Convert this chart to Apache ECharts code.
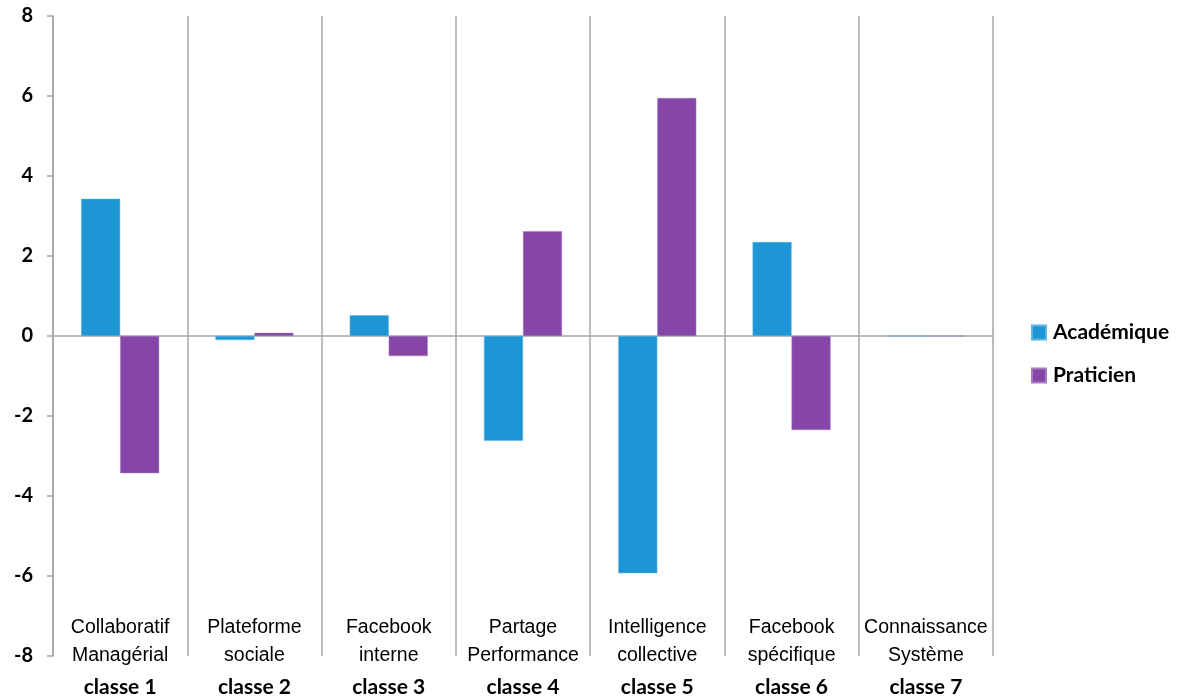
<!DOCTYPE html>
<html><head><meta charset="utf-8">
<script src="https://cdn.jsdelivr.net/npm/echarts@6/dist/echarts.min.js"></script>
<style>html,body{margin:0;padding:0;background:#fff}#c{width:1178px;height:698px}</style>
</head><body><div id="c"></div>
<script>
const categories = ["Collaboratif\nManagérial", "Plateforme\nsociale", "Facebook\ninterne", "Partage\nPerformance", "Intelligence\ncollective", "Facebook\nspécifique", "Connaissance\nSystème"];
const classes = ["classe 1", "classe 2", "classe 3", "classe 4", "classe 5", "classe 6", "classe 7"];
const academique = [3.43, -0.1, 0.52, -2.62, -5.93, 2.35, 0];
const praticien = [-3.43, 0.08, -0.5, 2.62, 5.95, -2.35, 0];
const yTicks = { min: -8, max: 8, interval: 2 };

const labels = categories.map((c, i) => c + "\n{b|" + classes[i] + "}");
const chart = echarts.init(document.getElementById('c'));
chart.setOption({
  animation: false,
  grid: { left: 53, right: 185, top: 16, bottom: 42, containLabel: false, outerBoundsMode: 'none' },
  legend: {
    orient: 'vertical', left: 1026, top: 317, itemGap: 22, itemWidth: 14, itemHeight: 14,
    icon: 'rect',
    textStyle: { fontFamily: 'Lato', fontWeight: 'bold', fontSize: 21, color: '#000', padding: [0, 0, 0, 2] },
    data: ['Académique', 'Praticien']
  },
  xAxis: [{
    type: 'category', data: labels, boundaryGap: true,
    axisLine: { onZero: true, lineStyle: { color: '#a6a6a6', width: 1.5 } },
    axisTick: { show: false }, axisLabel: { show: false },
    splitLine: { show: true, lineStyle: { color: '#a6a6a6', width: 1.5 } }
  }, {
    type: 'category', data: labels, position: 'bottom', boundaryGap: true,
    axisLine: { show: false, onZero: false }, axisTick: { show: false },
    axisLabel: {
      margin: -42, interval: 0, color: '#000', fontFamily: 'Liberation Sans', fontSize: 19.5, lineHeight: 28,
      rich: { b: { fontFamily: 'Lato', fontWeight: 'bold', fontSize: 21, lineHeight: 34, color: '#000' } }
    }
  }],
  yAxis: {
    type: 'value', min: yTicks.min, max: yTicks.max, interval: yTicks.interval,
    axisLine: { show: true, lineStyle: { color: '#a6a6a6', width: 1.5 } },
    axisTick: { show: true, length: 6, lineStyle: { color: '#a6a6a6', width: 1.5 } },
    splitLine: { show: false },
    axisLabel: { margin: 20, padding: [6, 0, 0, 0], color: '#000', fontFamily: 'Lato', fontWeight: 'bold', fontSize: 20 }
  },
  series: [{
    name: 'Académique', type: 'bar', data: academique, barWidth: 39, barGap: '0%',
    itemStyle: { color: '#1e96d6', borderColor: '#5ab4e4', borderWidth: 0.5 }
  }, {
    name: 'Praticien', type: 'bar', data: praticien, barWidth: 39, barGap: '0%',
    itemStyle: { color: '#8546a7', borderColor: '#a57cc0', borderWidth: 0.5 }
  }]
});
</script></body></html>
